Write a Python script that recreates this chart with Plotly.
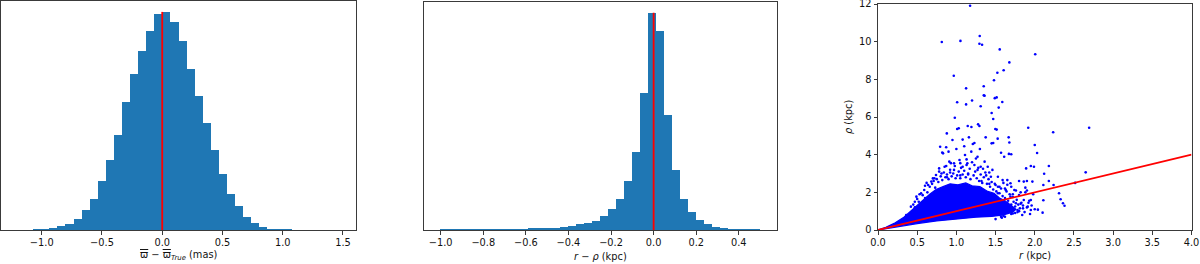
import numpy as np
import plotly.graph_objects as go

# ---------------- Panel 1: parallax residual histogram ----------------
plx_edges = np.linspace(-1.205, 1.475, 41)
plx_counts = [0, 0, 1, 2, 4, 11, 18, 33, 59, 92,
              148, 211, 284, 383, 467, 535, 597, 646, 653, 623,
              565, 483, 401, 319, 239, 169, 108, 71, 40, 22,
              10, 3, 1, 0.5, 0, 0, 0, 0, 0, 0]
plx_ticks = [-1.0, -0.5, 0.0, 0.5, 1.0, 1.5]
plx_ticklabels = ["\u22121.0", "\u22120.5", "0.0", "0.5", "1.0", "1.5"]

# ---------------- Panel 2: distance residual histogram ----------------
dist_edges = np.linspace(-1.002, 0.503, 41)
dist_counts = [0.5, 0.5, 0.6, 0.7, 0.9, 1.1, 1.3, 1.6, 2.0, 2.5,
               3.0, 3.5, 4.5, 5.5, 7, 10, 13, 18, 22, 28,
               42, 63, 92, 147, 235, 411, 653, 598, 345, 180,
               92, 54, 30, 18, 10, 5, 3, 1.5, 0.7, 0.4]
dist_ticks = [-1.0, -0.8, -0.6, -0.4, -0.2, 0.0, 0.2, 0.4]
dist_ticklabels = ["\u22121.0", "\u22120.8", "\u22120.6", "\u22120.4", "\u22120.2", "0.0", "0.2", "0.4"]

# ---------------- Panel 3: r vs rho scatter ----------------
# dense core of the cloud (outline)
core_r = [0.0, 0.25, 0.5, 0.75, 1.0, 1.25, 1.45, 1.6, 1.72, 1.76, 1.7, 1.62,
          1.55, 1.48, 1.4, 1.3, 1.2, 1.12, 1.02, 0.92, 0.83, 0.74, 0.66, 0.58,
          0.5, 0.42, 0.33, 0.22, 0.1, 0.0]
core_rho = [0.0, 0.19, 0.34, 0.48, 0.6, 0.68, 0.72, 0.8, 0.95, 1.1, 1.3, 1.55,
            1.7, 1.95, 2.05, 2.3, 2.35, 2.5, 2.4, 2.45, 2.3, 2.15, 1.9, 1.6,
            1.3, 1.0, 0.68, 0.38, 0.14, 0.0]
# individual stars outside the core
pts_r = [1.175, 1.052, 0.814, 1.298, 1.294, 1.328, 1.553, 2.006, 1.676, 0.967,
         1.603, 1.523, 1.480, 1.124, 1.349, 1.35, 1.36, 1.49, 1.514, 1.20,
         1.586, 1.01, 1.124, 1.31, 1.54, 1.45, 0.98, 1.47, 1.277, 1.294,
         1.145, 1.192, 1.03, 1.01, 1.497, 1.514, 1.917, 2.694, 2.235, 0.878,
         1.374, 1.527, 1.667, 1.676, 0.95, 1.08, 1.16, 0.793, 0.87, 1.21,
         1.23, 1.45, 1.47, 2.0, 2.03, 1.57, 1.70, 0.82, 1.0, 1.3,
         1.1, 2.65, 2.18, 1.95, 1.89, 2.12, 2.31, 2.33, 2.38, 2.36,
         2.18, 2.11, 2.24, 2.515, 2.11, 2.10, 2.04, 1.93,
         0.49, 0.64, 0.70, 0.74, 0.81, 0.91, 0.97, 1.04, 1.11, 1.19,
         1.27, 1.36, 1.40, 1.46, 1.53, 1.59, 1.65, 1.69, 1.74, 1.80,
         1.86, 1.91, 1.95, 1.78, 1.84, 1.72, 1.57, 1.95, 1.99, 1.97,
         1.86, 1.67, 1.61, 0.83, 0.90, 0.42, 0.36, 0.55, 0.59, 0.78,
         1.08, 1.23, 1.31, 1.44, 1.27, 1.14, 0.97, 0.85, 0.68, 1.50,
         1.63, 1.69, 1.76, 1.65, 1.53, 1.5, 1.6, 1.75, 1.8, 1.85,
         2.0, 1.88, 1.72, 0.6, 0.72, 0.88, 1.05, 1.15, 1.32, 1.42,
         0.47, 0.53, 0.62, 0.78, 0.92, 1.38, 1.55, 1.62, 1.82, 1.9,
         0.52, 0.57, 0.60, 0.63, 0.66, 0.69, 0.71, 0.73, 0.58, 0.47, 0.45, 0.50,
         0.75, 0.77, 0.80, 0.82, 0.84, 0.86, 0.88, 0.90, 0.92, 0.94, 0.96, 0.98,
         0.99, 0.87, 0.93,
         1.01, 1.03, 1.05, 1.06, 1.08, 1.10, 1.12, 1.13, 1.15, 1.17, 1.18, 1.20,
         1.22, 1.24, 1.26, 1.28, 1.29, 1.13, 1.25, 1.05,
         1.31, 1.33, 1.35, 1.37, 1.39, 1.41, 1.43, 1.45, 1.47, 1.49, 1.51, 1.53,
         1.55, 1.57, 1.59, 1.60, 1.34, 1.42,
         1.62, 1.64, 1.66, 1.68, 1.70, 1.72, 1.73, 1.75, 1.77, 1.79, 1.81, 1.83,
         1.85, 1.87, 1.90, 1.92, 1.94, 1.96, 1.70, 1.76, 1.82, 1.88, 1.90, 1.65,
         1.80, 1.98, 1.66, 1.62, 1.70, 1.78, 1.58]
pts_rho = [11.91, 10.04, 9.98, 10.30, 9.89, 9.84, 9.59, 9.33, 8.90, 8.19,
           8.48, 8.35, 7.95, 7.52, 7.63, 7.15, 7.13, 7.0, 7.04, 6.88,
           6.80, 6.78, 6.67, 6.57, 6.50, 6.21, 5.96, 5.89, 5.61, 5.52,
           5.52, 5.47, 5.40, 5.36, 5.36, 5.33, 5.43, 5.43, 5.19, 5.13,
           4.92, 4.85, 4.92, 4.65, 4.78, 4.80, 4.92, 4.42, 4.39, 4.57,
           4.62, 4.60, 4.62, 4.51, 4.09, 4.10, 4.02, 4.11, 4.30, 4.30,
           4.45, 3.06, 3.40, 3.40, 3.27, 2.99, 1.95, 1.63, 1.29, 1.42,
           2.60, 2.39, 2.39, 2.50, 1.58, 0.92, 1.08, 1.55,
           1.77, 2.39, 2.74, 2.92, 3.0, 3.63, 3.54, 3.72, 3.98, 4.16,
           3.89, 3.63, 3.36, 3.19, 2.83, 2.65, 2.65, 2.48, 2.12, 1.86,
           1.59, 1.24, 1.06, 1.06, 0.80, 0.88, 0.71, 1.59, 3.36, 2.57,
           2.57, 4.04, 3.89, 4.07, 4.16, 1.24, 0.80, 1.95, 2.12, 3.27,
           3.36, 3.45, 3.36, 2.83, 3.19, 3.54, 3.19, 3.36, 2.57, 2.39,
           2.12, 1.77, 1.42, 1.42, 1.95, 0.58, 0.75, 0.9, 1.0, 1.15,
           1.1, 2.0, 1.9, 2.35, 2.75, 2.8, 2.9, 2.95, 2.6, 2.45,
           1.5, 1.9, 2.5, 3.1, 3.05, 2.9, 2.3, 2.2, 1.4, 2.1,
           1.50, 1.85, 1.70, 2.00, 2.30, 2.45, 2.60, 2.25, 1.35, 1.20, 1.35, 1.65,
           2.70, 2.55, 2.85, 2.65, 3.05, 2.80, 2.95, 2.70, 3.20, 2.85, 3.00, 3.40,
           2.75, 3.40, 3.55,
           2.90, 3.10, 2.75, 3.30, 2.95, 3.15, 2.80, 3.45, 3.00, 3.25, 2.70, 3.60,
           2.90, 3.10, 2.75, 3.30, 2.60, 3.75, 3.80, 3.55,
           2.95, 2.50, 2.80, 3.05, 2.45, 2.70, 2.30, 2.55, 2.15, 2.45, 2.05, 2.30,
           1.95, 2.20, 1.80, 2.50, 3.25, 3.05,
           1.70, 2.05, 1.55, 1.90, 1.35, 1.75, 1.50, 1.25, 1.60, 1.35, 1.15, 1.45,
           1.30, 0.95, 1.20, 1.45, 0.85, 1.30, 2.30, 2.10, 2.00, 2.25, 2.60, 2.40,
           2.60, 1.90, 0.95, 0.70, 0.85, 0.95, 0.65]
line_r = [0.0, 4.0]
line_rho = [0.0, 4.0]

# ---------------- Figure ----------------
W, H = 1200, 264
BLUE = "#1f77b4"
FRAME = "#3a3a3a"
FONT = dict(family="DejaVu Sans", size=9.8, color="#111")


def xd(a, b):
    return [a / W, b / W]


def yd(top, bottom):
    return [(H - bottom) / H, (H - top) / H]


fig = go.Figure()

# panel 1
c1 = (plx_edges[:-1] + plx_edges[1:]) / 2
w1 = plx_edges[1] - plx_edges[0]
fig.add_trace(go.Bar(x=c1, y=plx_counts, width=w1, marker=dict(color=BLUE, line=dict(width=0)),
                     xaxis="x", yaxis="y", showlegend=False))
fig.add_trace(go.Scatter(x=[0, 0], y=[0, max(plx_counts)], mode="lines",
                         line=dict(color="red", width=1.8), xaxis="x", yaxis="y", showlegend=False))

# panel 2
c2 = (dist_edges[:-1] + dist_edges[1:]) / 2
w2 = dist_edges[1] - dist_edges[0]
fig.add_trace(go.Bar(x=c2, y=dist_counts, width=w2, marker=dict(color=BLUE, line=dict(width=0)),
                     xaxis="x2", yaxis="y2", showlegend=False))
fig.add_trace(go.Scatter(x=[0, 0], y=[0, max(dist_counts)], mode="lines",
                         line=dict(color="red", width=1.8), xaxis="x2", yaxis="y2", showlegend=False))

# panel 3
fig.add_trace(go.Scatter(x=core_r, y=core_rho, mode="lines", fill="toself", fillcolor="blue",
                         line=dict(color="blue", width=1.2), xaxis="x3", yaxis="y3", showlegend=False))
fig.add_trace(go.Scatter(x=pts_r, y=pts_rho, mode="markers",
                         marker=dict(color="blue", size=2.6, line=dict(width=0)),
                         xaxis="x3", yaxis="y3", showlegend=False))
fig.add_trace(go.Scatter(x=line_r, y=line_rho, mode="lines", line=dict(color="red", width=1.8),
                         xaxis="x3", yaxis="y3", showlegend=False))

axis_common = dict(showline=True, mirror=True, linecolor=FRAME, linewidth=1,
                   showgrid=False, zeroline=False, ticks="outside", ticklen=3.5,
                   tickwidth=0.8, tickcolor=FRAME, tickfont=FONT,
                   ticklabeloverflow="allow", automargin=False)

fig.update_layout(
    width=W, height=H, margin=dict(l=0, r=0, t=0, b=0, pad=0, autoexpand=False),
    paper_bgcolor="white", plot_bgcolor="white", bargap=0,
    xaxis=dict(domain=xd(1, 356), range=[-1.338, 1.608], tickvals=plx_ticks,
               ticktext=plx_ticklabels, anchor="y", **axis_common),
    yaxis=dict(domain=yd(1, 230), range=[0, max(plx_counts) * 1.05], anchor="x",
               **{**axis_common, "ticks": "", "showticklabels": False}),
    xaxis2=dict(domain=xd(424.3, 776.7), range=[-1.077, 0.578], tickvals=dist_ticks,
                ticktext=dist_ticklabels, anchor="y2", **axis_common),
    yaxis2=dict(domain=yd(2, 230), range=[0, max(dist_counts) * 1.05], anchor="x2",
                **{**axis_common, "ticks": "", "showticklabels": False}),
    xaxis3=dict(domain=xd(878, 1191.5), range=[0, 4], tickvals=[0, 0.5, 1, 1.5, 2, 2.5, 3, 3.5, 4],
                ticktext=["0.0", "0.5", "1.0", "1.5", "2.0", "2.5", "3.0", "3.5", "4.0"],
                anchor="y3", **axis_common),
    yaxis3=dict(domain=yd(4, 230), range=[0, 12], tickvals=[0, 2, 4, 6, 8, 10, 12],
                anchor="x3", **axis_common),
)

ann = dict(xref="paper", yref="paper", showarrow=False, font=FONT,
           xanchor="center", yanchor="middle")
fig.add_annotation(x=178 / W, y=1 - 255 / H,
                   text='<span style="text-decoration:overline">\u03d6</span> \u2212 '
                        '<span style="text-decoration:overline">\u03d6</span><sub><i>True</i></sub> (mas)',
                   **ann)
fig.add_annotation(x=600.5 / W, y=1 - 256 / H, text="<i>r</i> \u2212 <i>\u03c1</i> (kpc)", **ann)
fig.add_annotation(x=1035 / W, y=1 - 255 / H, text="<i>r</i> (kpc)", **ann)
fig.add_annotation(x=849 / W, y=1 - 117 / H, text="<i>\u03c1</i> (kpc)", textangle=-90, **ann)

fig.write_html("out.html", config={"responsive": False, "displayModeBar": False},
               post_script="document.body.style.margin='0';document.body.style.overflow='hidden';")
